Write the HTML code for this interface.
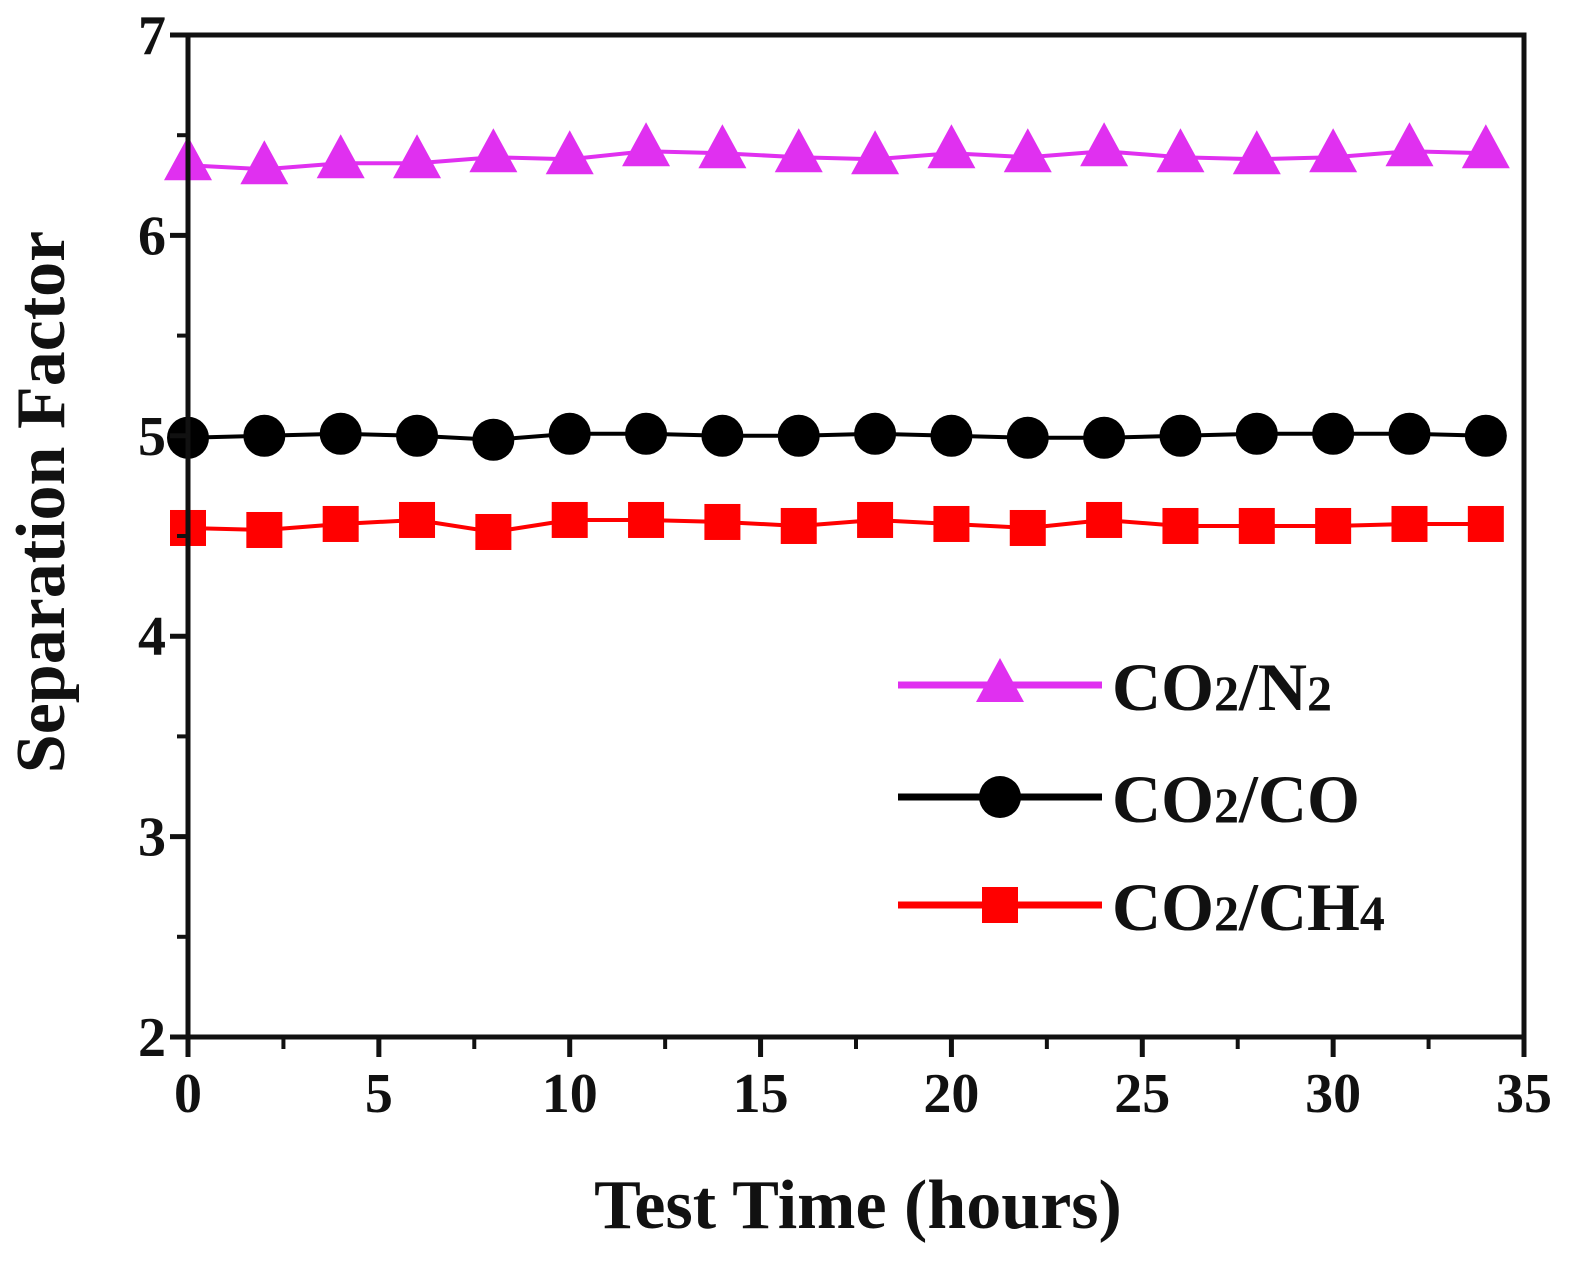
<!DOCTYPE html>
<html><head><meta charset="utf-8">
<style>
body{margin:0;background:#fff;}
svg text{font-family:"Liberation Serif",serif;font-weight:bold;fill:#111;}
</style></head>
<body>
<svg id="chart" width="1581" height="1261" viewBox="0 0 1581 1261" xmlns="http://www.w3.org/2000/svg">
<g id="grid"></g>
<g id="series"></g>
<g id="axes"></g>
<g id="legend">
  <g>
    <line x1="898" y1="685" x2="1102" y2="685" stroke="#e030f0" stroke-width="7"/>
    <polygon points="1000,658 976,702 1024,702" fill="#e030f0"/>
    <text x="1112" y="710" font-size="68">CO<tspan font-size="50">2</tspan>/N<tspan font-size="50">2</tspan></text>
  </g>
  <g>
    <line x1="898" y1="797" x2="1102" y2="797" stroke="#000" stroke-width="7"/>
    <circle cx="1000" cy="797" r="21" fill="#000"/>
    <text x="1112" y="822" font-size="68">CO<tspan font-size="50">2</tspan>/CO</text>
  </g>
  <g>
    <line x1="898" y1="905" x2="1102" y2="905" stroke="#ff0000" stroke-width="7"/>
    <rect x="982" y="887" width="36" height="36" fill="#ff0000"/>
    <text x="1112" y="930" font-size="68">CO<tspan font-size="50">2</tspan>/CH<tspan font-size="50">4</tspan></text>
  </g>
</g>
<text x="858" y="1228" font-size="70" text-anchor="middle">Test Time (hours)</text>
<text transform="translate(64,502) rotate(-90)" font-size="70" text-anchor="middle">Separation Factor</text>
</svg>
<script>
const times = [0,2,4,6,8,10,12,14,16,18,20,22,24,26,28,30,32,34];
const n2Values = [6.35,6.33,6.36,6.36,6.39,6.38,6.42,6.41,6.39,6.38,6.41,6.39,6.42,6.39,6.38,6.39,6.42,6.41];
const coValues = [4.99,5.0,5.01,5.0,4.98,5.01,5.01,5.0,5.0,5.01,5.0,4.99,4.99,5.0,5.01,5.01,5.01,5.0];
const ch4Values = [4.54,4.53,4.56,4.58,4.52,4.58,4.58,4.57,4.55,4.58,4.56,4.54,4.58,4.55,4.55,4.55,4.56,4.56];
const xTicks = [0,5,10,15,20,25,30,35];
const yTicks = [2,3,4,5,6,7];

const X0=188, X1=1524, Y0=1037, Y1=35;
const xs = v => X0 + (v-0)/35*(X1-X0);
const ys = v => Y0 - (v-2)/5*(Y0-Y1);
const NS="http://www.w3.org/2000/svg";
function mk(tag, attrs, parent){const e=document.createElementNS(NS,tag);for(const k in attrs)e.setAttribute(k,attrs[k]);parent.appendChild(e);return e;}

const axes=document.getElementById('axes');
const frame=mk('rect',{x:X0,y:Y1,width:X1-X0,height:Y0-Y1,fill:'none',stroke:'#111','stroke-width':5},axes);


xTicks.forEach(t=>{
  const x=xs(t);
  const tk=mk('line',{x1:x,y1:Y0,x2:x,y2:Y0+20,stroke:'#111','stroke-width':5},axes);
  
  
  const lb=mk('text',{x:x,y:Y0+75,'font-size':56,'text-anchor':'middle'},axes);
  lb.textContent=t;
  
  
  if(t<35){
    const m=mk('line',{x1:xs(t+2.5),y1:Y0,x2:xs(t+2.5),y2:Y0+12,stroke:'#111','stroke-width':4},axes);
    
    
  }
});
yTicks.forEach(t=>{
  const y=ys(t);
  const tk=mk('line',{x1:X0-18,y1:y,x2:X0,y2:y,stroke:'#111','stroke-width':5},axes);
  
  
  const lb=mk('text',{x:X0-22,y:y+19,'font-size':56,'text-anchor':'end'},axes);
  lb.textContent=t;
  
  
  if(t<7){
    const m=mk('line',{x1:X0-11,y1:ys(t+0.5),x2:X0,y2:ys(t+0.5),stroke:'#111','stroke-width':4},axes);
    
    
  }
});

const series=document.getElementById('series');
function drawSeries(vals,color,shape,name){
  const g=mk('g',{},series);
  
  
  const pts=times.map((t,i)=>xs(t)+','+ys(vals[i])).join(' ');
  const pl=mk('polyline',{points:pts,fill:'none',stroke:color,'stroke-width':4},g);
  
  
  times.forEach((t,i)=>{
    const x=xs(t), y=ys(vals[i]);
    let m;
    if(shape==='tri') m=mk('polygon',{points:`${x},${y-29} ${x-24},${y+15} ${x+24},${y+15}`,fill:color},g);
    else if(shape==='circ') m=mk('circle',{cx:x,cy:y,r:21,fill:color},g);
    else m=mk('rect',{x:x-18,y:y-18,width:36,height:36,fill:color},g);
    
    
  });
}
drawSeries(n2Values,'#e030f0','tri','series-co2-n2');
drawSeries(coValues,'#000','circ','series-co2-co');
drawSeries(ch4Values,'#ff0000','sq','series-co2-ch4');
</script>
</body></html>
